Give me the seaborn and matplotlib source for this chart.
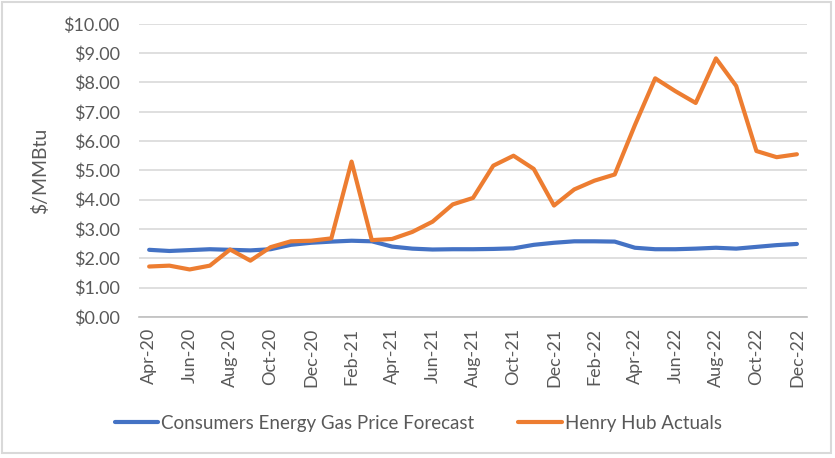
import matplotlib
matplotlib.use('Agg')
import matplotlib.pyplot as plt
import seaborn as sns
import pandas as pd
from matplotlib.ticker import FuncFormatter, MultipleLocator

months = ['Apr-20', 'May-20', 'Jun-20', 'Jul-20', 'Aug-20', 'Sep-20', 'Oct-20', 'Nov-20',
          'Dec-20', 'Jan-21', 'Feb-21', 'Mar-21', 'Apr-21', 'May-21', 'Jun-21', 'Jul-21',
          'Aug-21', 'Sep-21', 'Oct-21', 'Nov-21', 'Dec-21', 'Jan-22', 'Feb-22', 'Mar-22',
          'Apr-22', 'May-22', 'Jun-22', 'Jul-22', 'Aug-22', 'Sep-22', 'Oct-22', 'Nov-22',
          'Dec-22']

forecast = [2.29, 2.25, 2.28, 2.31, 2.29, 2.27, 2.31, 2.46, 2.53, 2.57, 2.60, 2.58,
            2.40, 2.33, 2.30, 2.31, 2.31, 2.32, 2.34, 2.46, 2.53, 2.58, 2.58, 2.57,
            2.36, 2.31, 2.31, 2.33, 2.36, 2.33, 2.39, 2.45, 2.49]

henry_hub = [1.72, 1.75, 1.62, 1.75, 2.30, 1.92, 2.38, 2.58, 2.60, 2.68, 5.30, 2.62,
             2.66, 2.90, 3.25, 3.84, 4.06, 5.16, 5.50, 5.05, 3.80, 4.35, 4.65, 4.86,
             6.55, 8.14, 7.70, 7.30, 8.82, 7.88, 5.66, 5.45, 5.55]

forecast_name = 'Consumers Energy Gas Price Forecast'
actual_name = 'Henry Hub Actuals'


def main():
    sns.set_style('white')
    plt.rcParams['font.family'] = ['Lato', 'DejaVu Sans']

    df = pd.DataFrame({'month': range(len(months)),
                       forecast_name: forecast,
                       actual_name: henry_hub})
    long_df = df.melt(id_vars='month', var_name='series', value_name='price')

    fig = plt.figure(figsize=(8.35, 4.58), dpi=100)
    ax = fig.add_axes([0.1665, 0.308, 0.800, 0.640])

    sns.lineplot(data=long_df, x='month', y='price', hue='series',
                 palette=['#4472C4', '#ED7D31'], linewidth=3.0, ax=ax,
                 legend=True)

    ax.set_xlim(-0.5, len(months) - 0.5)
    ax.set_ylim(0, 10)
    ax.yaxis.set_major_locator(MultipleLocator(1))
    ax.yaxis.set_major_formatter(FuncFormatter(lambda v, p: f'${v:.2f}'))
    ax.grid(axis='y', color='#D9D9D9', linewidth=1.2)
    ax.set_axisbelow(True)

    # labels every other month, tick marks on category boundaries
    ax.set_xticks(range(0, len(months), 2))
    ax.set_xticklabels(months[::2], rotation=90)
    ax.set_xticks([i - 0.5 for i in range(0, len(months) + 1, 2)], minor=True)
    ax.tick_params(axis='x', which='major', length=0, pad=8, labelsize=13,
                   labelcolor='#595959')
    ax.tick_params(axis='x', which='minor', length=6, color='#BFBFBF', width=1)
    ax.tick_params(axis='y', length=0, labelsize=13, labelcolor='#595959', pad=14)

    for side in ['top', 'right', 'left']:
        ax.spines[side].set_visible(False)
    ax.spines['bottom'].set_color('#BFBFBF')
    ax.spines['bottom'].set_linewidth(1.2)

    ax.set_xlabel('')
    ax.set_ylabel('$/MMBtu', fontsize=14, color='#595959', labelpad=10)

    handles, labels = ax.get_legend_handles_labels()
    ax.legend(handles, labels, loc='center', bbox_to_anchor=(0.501, 0.076),
              bbox_transform=fig.transFigure, ncol=2, frameon=False,
              fontsize=13.5, labelcolor='#595959', handlelength=2.3,
              handletextpad=0.16, columnspacing=2.35)

    # thin grey frame around the whole chart
    fig.patches.append(plt.Rectangle((0.0024, 0.011), 0.993, 0.985,
                                     transform=fig.transFigure, fill=False,
                                     edgecolor='#D9D9D9', linewidth=1.5))

    fig.savefig('out.png', dpi=100)


if __name__ == '__main__':
    main()
